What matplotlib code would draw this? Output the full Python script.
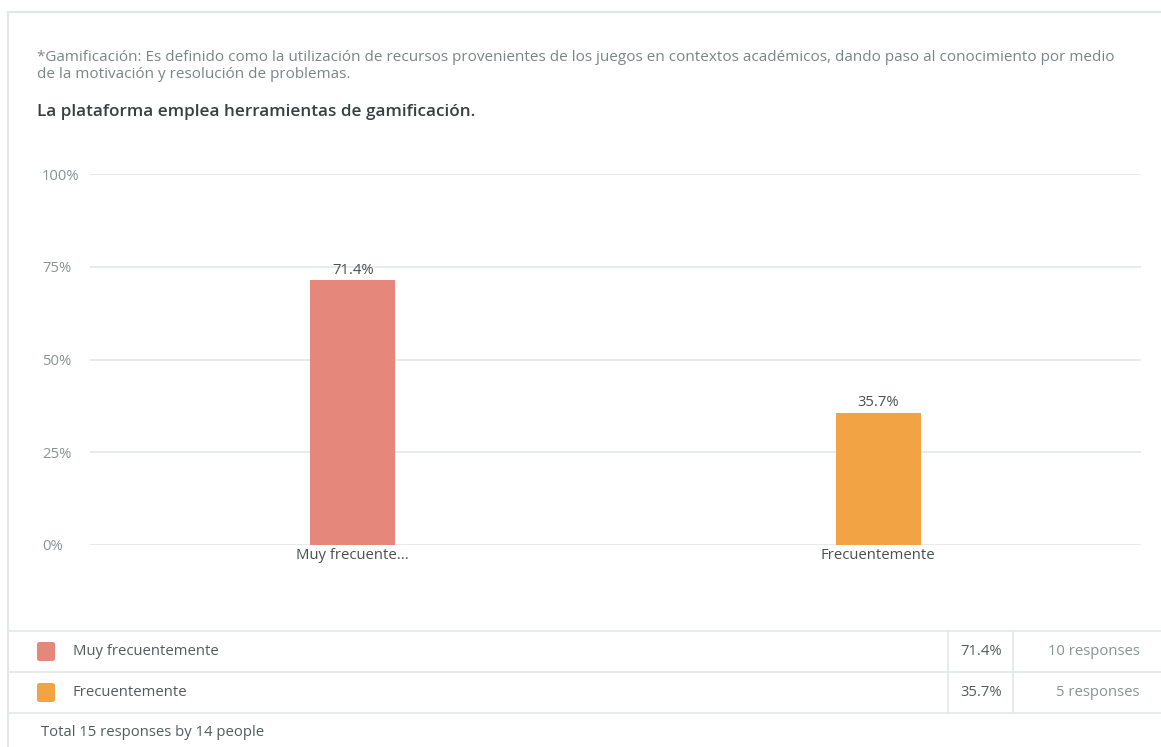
import matplotlib.pyplot as plt
from matplotlib.patches import FancyBboxPatch

plt.rcParams['font.family'] = ['Open Sans', 'DejaVu Sans']

# survey results
categories = ['Muy frecuentemente', 'Frecuentemente']
tick_labels = ['Muy frecuente...', 'Frecuentemente']
percents = [71.4, 35.7]
responses = [10, 5]
colors = ['#E5877B', '#F2A444']
yticks = [0, 25, 50, 75, 100]
note = ('*Gamificación: Es definido como la utilización de recursos provenientes de los juegos en contextos '
        'académicos, dando paso al conocimiento por medio\nde la motivación y resolución de problemas.')
question = 'La plataforma emplea herramientas de gamificación.'
footer = 'Total 15 responses by 14 people'

W, H = 1161, 747
fs = 10.7
fig = plt.figure(figsize=(W / 100, H / 100), dpi=100)

# full-figure canvas in pixel units for the card, texts and the table
bg = fig.add_axes([0, 0, 1, 1], zorder=0)
bg.set_xlim(0, W)
bg.set_ylim(H, 0)
bg.axis('off')

line_c = '#E3E7E7'
bg.plot([8, W], [12, 12], color=line_c, lw=1.5)
bg.plot([8, 8], [12, H], color=line_c, lw=1.5)

bg.text(37, 66, note, fontsize=11, color='#7B8585', va='center', linespacing=1.15)
bg.text(37, 112, question, fontsize=12.3, color='#3A3F3F', va='center', fontweight='semibold')

# legend table
rows_y = [631, 672, 713]
for y in rows_y:
    bg.plot([8, W], [y, y], color=line_c, lw=1.2)
for x in [948, 1013]:
    bg.plot([x, x], [rows_y[0], rows_y[-1]], color=line_c, lw=1.2)
for i, (cat, p, r, c) in enumerate(zip(categories, percents, responses, colors)):
    yc = (rows_y[i] + rows_y[i + 1]) / 2
    bg.add_patch(FancyBboxPatch((37, yc - 9.5), 18, 19, boxstyle='round,pad=0,rounding_size=2.5',
                                fc=c, ec='none'))
    bg.text(73, yc, cat, fontsize=fs, color='#555B5B', va='center')
    bg.text(1002, yc, f'{p}%', fontsize=fs, color='#555B5B', va='center', ha='right')
    bg.text(1140, yc, f'{r} responses', fontsize=fs, color='#8A9292', va='center', ha='right')
bg.text(41, 733, footer, fontsize=fs, color='#555B5B', va='center')

# bar chart
ax = fig.add_axes([90 / W, (H - 545) / H, (1141 - 90) / W, (545 - 174) / H], zorder=1)
ax.patch.set_alpha(0)
x = range(len(categories))
bars = ax.bar(x, percents, width=0.162, color=colors, zorder=2)
for b, p in zip(bars, percents):
    ax.text(b.get_x() + b.get_width() / 2, p + 0.6, f'{p}%', ha='center', va='bottom',
            fontsize=fs, color='#4A4F4F')
ax.set_xlim(-0.5, 1.5)
ax.set_ylim(0, 100)
ax.set_yticks(yticks)
ax.set_yticklabels([f'{t}%' for t in yticks], ha='left', color='#8A9292', fontsize=fs)
ax.set_xticks(list(x))
ax.set_xticklabels(tick_labels, fontsize=fs, color='#4A4F4F')
ax.tick_params(axis='y', length=0, pad=34.5)
ax.tick_params(axis='x', length=0, pad=2)
ax.grid(axis='y', color=line_c, lw=1.2, zorder=0)
for s in ax.spines.values():
    s.set_visible(False)

fig.savefig('out.png', dpi=100)
